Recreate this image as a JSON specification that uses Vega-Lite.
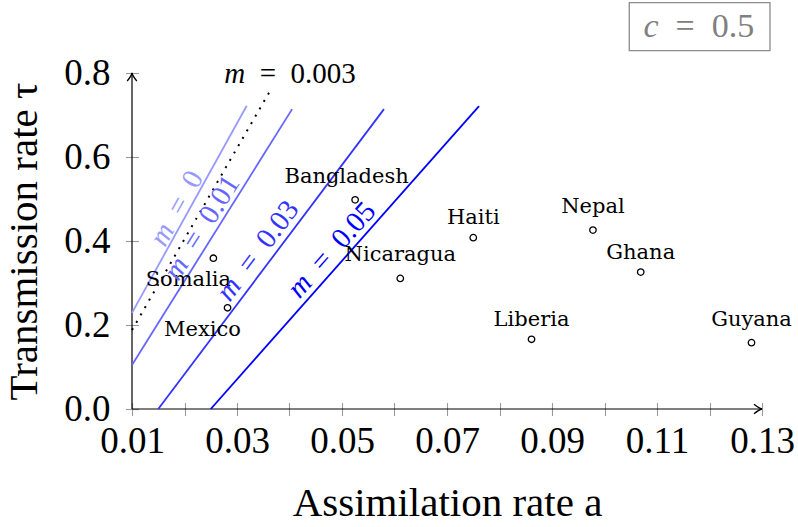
{
  "$schema": "https://vega.github.io/schema/vega-lite/v6.json",
  "width": 630,
  "height": 336,
  "autosize": {"type": "none"},
  "padding": {"left": 132, "top": 73, "right": 36, "bottom": 118},
  "background": "white",
  "config": {
    "view": {"stroke": null},
    "font": "Liberation Serif"
  },
  "datasets": {
    "countries": [
      {"country": "Bangladesh", "a": 0.0525, "tau": 0.498},
      {"country": "Nicaragua", "a": 0.0611, "tau": 0.311},
      {"country": "Haiti", "a": 0.0750, "tau": 0.408},
      {"country": "Nepal", "a": 0.0978, "tau": 0.426},
      {"country": "Ghana", "a": 0.1069, "tau": 0.326},
      {"country": "Liberia", "a": 0.0861, "tau": 0.166},
      {"country": "Guyana", "a": 0.1280, "tau": 0.158},
      {"country": "Somalia", "a": 0.0255, "tau": 0.359},
      {"country": "Mexico", "a": 0.0282, "tau": 0.241}
    ],
    "curves": [
      {"m": "0", "a": 0.01, "tau": 0.229},
      {"m": "0", "a": 0.03185, "tau": 0.722},
      {"m": "0.003", "a": 0.01, "tau": 0.188},
      {"m": "0.003", "a": 0.0366, "tau": 0.764},
      {"m": "0.01", "a": 0.01, "tau": 0.105},
      {"m": "0.01", "a": 0.0405, "tau": 0.714},
      {"m": "0.03", "a": 0.0150, "tau": 0.0},
      {"m": "0.03", "a": 0.0580, "tau": 0.714},
      {"m": "0.05", "a": 0.0250, "tau": 0.0},
      {"m": "0.05", "a": 0.0761, "tau": 0.721}
    ],
    "curveLabels": [
      {"m": "0", "rest": "=\u20020", "a": 0.01851, "tau": 0.478},
      {"m": "0.01", "rest": "=\u20020.01", "a": 0.02328, "tau": 0.432},
      {"m": "0.03", "rest": "=\u20020.03", "a": 0.03394, "tau": 0.377},
      {"m": "0.05", "rest": "=\u20020.05", "a": 0.0480, "tau": 0.379},
      {"m": "0.003", "rest": "=\u20020.003", "a": 0.0401, "tau": 0.776}
    ],
    "axisLines": [
      {"axis": "x", "a": 0.01, "tau": 0},
      {"axis": "x", "a": 0.13, "tau": 0},
      {"axis": "y", "a": 0.01, "tau": 0},
      {"axis": "y", "a": 0.01, "tau": 0.8}
    ],
    "arrowTips": [
      {"dir": "right", "a": 0.13, "tau": 0},
      {"dir": "up", "a": 0.01, "tau": 0.8}
    ],
    "paramBox": [
      {"param": "c", "value": "=\u20020.5", "a": 0.10472, "a2": 0.13152, "tau": 0.8531, "tau2": 0.9674, "ta": 0.11798, "ttau": 0.885}
    ]
  },
  "encoding": {
    "x": {
      "field": "a",
      "type": "quantitative",
      "scale": {"domain": [0.01, 0.13], "nice": false, "zero": false},
      "axis": {
        "title": "Assimilation rate a",
        "values": [0.01, 0.02, 0.03, 0.04, 0.05, 0.06, 0.07, 0.08, 0.09, 0.10, 0.11, 0.12, 0.13],
        "format": ".2f",
        "labelExpr": "round(datum.value * 100) % 2 == 1 ? datum.label : ''",
        "domain": false,
        "grid": false,
        "offset": -6.5,
        "tickSize": 13,
        "tickColor": "#9a9a9a",
        "tickWidth": 1.1,
        "labelFont": "Liberation Serif",
        "labelFontSize": 37,
        "labelColor": "black",
        "labelPadding": 8,
        "labelFlush": false,
        "labelOverlap": false,
        "titleFont": "Liberation Serif",
        "titleFontSize": 41,
        "titleFontWeight": "normal",
        "titleColor": "black",
        "titleY": 112.5,
        "titleBaseline": "alphabetic"
      }
    },
    "y": {
      "field": "tau",
      "type": "quantitative",
      "scale": {"domain": [0, 0.8], "nice": false, "zero": false},
      "axis": {
        "title": "Transmission rate τ",
        "values": [0, 0.2, 0.4, 0.6, 0.8],
        "format": ".1f",
        "domain": false,
        "grid": false,
        "offset": -6.5,
        "tickSize": 13,
        "tickColor": "#9a9a9a",
        "tickWidth": 1.1,
        "labelFont": "Liberation Serif",
        "labelFontSize": 37,
        "labelColor": "black",
        "labelPadding": 15.5,
        "labelFlush": false,
        "labelOverlap": false,
        "titleFont": "Liberation Serif",
        "titleFontSize": 41,
        "titleFontWeight": "normal",
        "titleColor": "black",
        "titleX": -101.8,
        "titleBaseline": "alphabetic"
      }
    }
  },
  "layer": [
    {
      "data": {"name": "axisLines"},
      "mark": {"type": "line", "color": "black", "strokeWidth": 1.2},
      "encoding": {"detail": {"field": "axis"}, "order": {"field": "tau"}}
    },
    {
      "data": {"name": "arrowTips"},
      "transform": [{"filter": "datum.dir == 'right'"}],
      "mark": {"type": "point", "shape": "M -1 -0.6 Q -0.4 -0.1 0 0 Q -0.4 0.1 -1 0.6", "filled": false, "stroke": "black", "strokeWidth": 1.3, "size": 256, "opacity": 1},
      "encoding": {}
    },
    {
      "data": {"name": "arrowTips"},
      "transform": [{"filter": "datum.dir == 'up'"}],
      "mark": {"type": "point", "shape": "M -0.6 1 Q -0.1 0.4 0 0 Q 0.1 0.4 0.6 1", "filled": false, "stroke": "black", "strokeWidth": 1.3, "size": 256, "opacity": 1},
      "encoding": {}
    },
    {
      "data": {"name": "curves"},
      "transform": [{"filter": "datum.m != '0.003'"}],
      "mark": {"type": "line", "strokeWidth": 1.8},
      "encoding": {
        "color": {
          "field": "m",
          "type": "nominal",
          "scale": {"domain": ["0", "0.01", "0.03", "0.05"], "range": ["#9999ff", "#6666ff", "#3333ff", "#0000ff"]},
          "legend": null
        }
      }
    },
    {
      "data": {"name": "curves"},
      "transform": [{"filter": "datum.m == '0.003'"}],
      "mark": {"type": "line", "color": "black", "strokeWidth": 2, "strokeDash": [2, 6.5]},
      "encoding": {}
    },
    {
      "data": {"name": "countries"},
      "mark": {"type": "point", "shape": "circle", "filled": false, "stroke": "black", "strokeWidth": 1.3, "size": 42, "opacity": 1},
      "encoding": {}
    },
    {
      "data": {"name": "countries"},
      "transform": [{"filter": {"field": "country", "oneOf": ["Nicaragua", "Nepal", "Guyana"]}}],
      "mark": {"type": "text", "font": "DejaVu Serif", "fontSize": 21, "color": "black", "align": "center", "baseline": "alphabetic", "dy": -17},
      "encoding": {"text": {"field": "country"}}
    },
    {
      "data": {"name": "countries"},
      "transform": [{"filter": {"field": "country", "oneOf": ["Haiti", "Ghana", "Liberia"]}}],
      "mark": {"type": "text", "font": "DejaVu Serif", "fontSize": 21, "color": "black", "align": "center", "baseline": "alphabetic", "dy": -13.5},
      "encoding": {"text": {"field": "country"}}
    },
    {
      "data": {"name": "countries"},
      "transform": [{"filter": {"field": "country", "oneOf": ["Bangladesh"]}}],
      "mark": {"type": "text", "font": "DejaVu Serif", "fontSize": 21, "color": "black", "align": "center", "baseline": "alphabetic", "dx": -8.5, "dy": -17},
      "encoding": {"text": {"field": "country"}}
    },
    {
      "data": {"name": "countries"},
      "transform": [{"filter": {"field": "country", "oneOf": ["Somalia", "Mexico"]}}],
      "mark": {"type": "text", "font": "DejaVu Serif", "fontSize": 21, "color": "black", "align": "center", "baseline": "alphabetic", "dx": -25, "dy": 28},
      "encoding": {"text": {"field": "country"}}
    },
    {
      "data": {"name": "curveLabels"},
      "transform": [{"filter": "datum.m == '0'"}],
      "mark": {"type": "text", "font": "Liberation Serif", "fontStyle": "italic", "fontSize": 29, "color": "#9999ff", "align": "left", "baseline": "middle", "angle": -61, "dx": -40.4},
      "encoding": {"text": {"value": "m"}}
    },
    {
      "data": {"name": "curveLabels"},
      "transform": [{"filter": "datum.m == '0'"}],
      "mark": {"type": "text", "font": "Liberation Serif", "fontSize": 29, "color": "#9999ff", "align": "left", "baseline": "middle", "angle": -61, "dx": -4.96},
      "encoding": {"text": {"field": "rest"}}
    },
    {
      "data": {"name": "curveLabels"},
      "transform": [{"filter": "datum.m == '0.01'"}],
      "mark": {"type": "text", "font": "Liberation Serif", "fontStyle": "italic", "fontSize": 29, "color": "#6666ff", "align": "left", "baseline": "middle", "angle": -58, "dx": -58.5},
      "encoding": {"text": {"value": "m"}}
    },
    {
      "data": {"name": "curveLabels"},
      "transform": [{"filter": "datum.m == '0.01'"}],
      "mark": {"type": "text", "font": "Liberation Serif", "fontSize": 29, "color": "#6666ff", "align": "left", "baseline": "middle", "angle": -58, "dx": -23.1},
      "encoding": {"text": {"field": "rest"}}
    },
    {
      "data": {"name": "curveLabels"},
      "transform": [{"filter": "datum.m == '0.03'"}],
      "mark": {"type": "text", "font": "Liberation Serif", "fontStyle": "italic", "fontSize": 29, "color": "#3333ff", "align": "left", "baseline": "middle", "angle": -53, "dx": -58.5},
      "encoding": {"text": {"value": "m"}}
    },
    {
      "data": {"name": "curveLabels"},
      "transform": [{"filter": "datum.m == '0.03'"}],
      "mark": {"type": "text", "font": "Liberation Serif", "fontSize": 29, "color": "#3333ff", "align": "left", "baseline": "middle", "angle": -53, "dx": -23.1},
      "encoding": {"text": {"field": "rest"}}
    },
    {
      "data": {"name": "curveLabels"},
      "transform": [{"filter": "datum.m == '0.05'"}],
      "mark": {"type": "text", "font": "Liberation Serif", "fontStyle": "italic", "fontSize": 29, "color": "#0000ff", "align": "left", "baseline": "middle", "angle": -48.4, "dx": -58.5},
      "encoding": {"text": {"value": "m"}}
    },
    {
      "data": {"name": "curveLabels"},
      "transform": [{"filter": "datum.m == '0.05'"}],
      "mark": {"type": "text", "font": "Liberation Serif", "fontSize": 29, "color": "#0000ff", "align": "left", "baseline": "middle", "angle": -48.4, "dx": -23.1},
      "encoding": {"text": {"field": "rest"}}
    },
    {
      "data": {"name": "curveLabels"},
      "transform": [{"filter": "datum.m == '0.003'"}],
      "mark": {"type": "text", "font": "Liberation Serif", "fontStyle": "italic", "fontSize": 29, "color": "black", "align": "left", "baseline": "alphabetic", "dx": -65.8},
      "encoding": {"text": {"value": "m"}}
    },
    {
      "data": {"name": "curveLabels"},
      "transform": [{"filter": "datum.m == '0.003'"}],
      "mark": {"type": "text", "font": "Liberation Serif", "fontSize": 29, "color": "black", "align": "left", "baseline": "alphabetic", "dx": -30.3},
      "encoding": {"text": {"field": "rest"}}
    },
    {
      "data": {"name": "paramBox"},
      "mark": {"type": "rect", "fill": "white", "stroke": "#8c8c8c", "strokeWidth": 1.3},
      "encoding": {"x2": {"field": "a2"}, "y2": {"field": "tau2"}}
    },
    {
      "data": {"name": "paramBox"},
      "mark": {"type": "text", "font": "Liberation Serif", "fontStyle": "italic", "fontSize": 34, "color": "#808080", "align": "left", "baseline": "alphabetic", "dx": -55.4},
      "encoding": {"x": {"field": "ta", "type": "quantitative"}, "y": {"field": "ttau", "type": "quantitative"}, "text": {"field": "param"}}
    },
    {
      "data": {"name": "paramBox"},
      "mark": {"type": "text", "font": "Liberation Serif", "fontSize": 34, "color": "#808080", "align": "left", "baseline": "alphabetic", "dx": -23.3},
      "encoding": {"x": {"field": "ta", "type": "quantitative"}, "y": {"field": "ttau", "type": "quantitative"}, "text": {"field": "value"}}
    }
  ]
}
